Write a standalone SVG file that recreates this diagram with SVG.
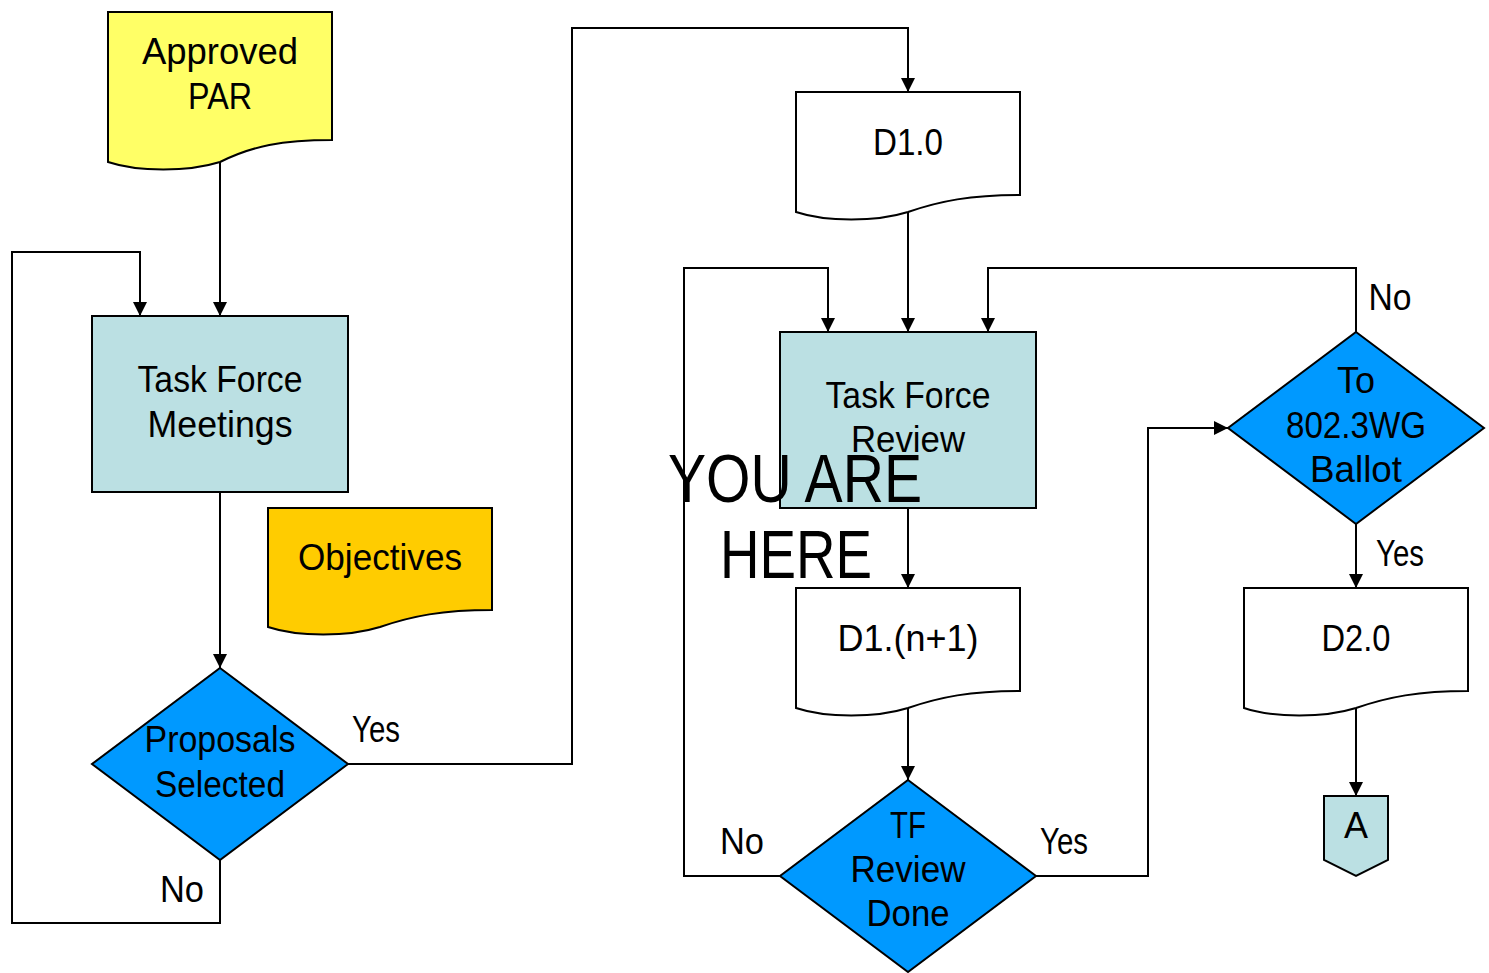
<svg xmlns="http://www.w3.org/2000/svg" width="1489" height="973" viewBox="0 0 1489 973">
<style>
.s{stroke:#000;stroke-width:2}
.ln{fill:none;stroke:#000;stroke-width:2}
text{font-family:"Liberation Sans",Arial,sans-serif;font-size:36px;fill:#000;text-anchor:middle}
.big{font-size:68px}
</style>
<defs>
<marker id="ah" markerUnits="userSpaceOnUse" markerWidth="14" markerHeight="16" refX="14" refY="7" orient="auto">
<path d="M0,0 L14,7 L0,14 Z" fill="#000"/>
</marker>
</defs>
<rect width="1489" height="973" fill="#fff"/>
<g id="connectors" class="ln">
<path d="M220,162 V316" marker-end="url(#ah)"/>
<path d="M220,860 V923 H12 V252 H140 V316" marker-end="url(#ah)"/>
<path d="M220,492 V668" marker-end="url(#ah)"/>
<path d="M348,764 H572 V28 H908 V92" marker-end="url(#ah)"/>
<path d="M908,212 V332" marker-end="url(#ah)"/>
<path d="M908,508 V588" marker-end="url(#ah)"/>
<path d="M908,708 V780" marker-end="url(#ah)"/>
<path d="M780,876 H684 V268 H828 V332" marker-end="url(#ah)"/>
<path d="M1036,876 H1148 V428 H1228" marker-end="url(#ah)"/>
<path d="M1356,332 V268 H988 V332" marker-end="url(#ah)"/>
<path d="M1356,524 V588" marker-end="url(#ah)"/>
<path d="M1356,708 V796" marker-end="url(#ah)"/>
</g>
<g id="approved-par">
<path class="s" fill="#ffff66" d="M108,12 H332 V140 C282,140 252,146 220,162 C188,172 138,172 108,162 Z"/>
<text x="220" y="64" textLength="156" lengthAdjust="spacingAndGlyphs">Approved</text>
<text x="220" y="109" textLength="64" lengthAdjust="spacingAndGlyphs">PAR</text>
</g>
<g id="task-force-meetings">
<rect class="s" x="92" y="316" width="256" height="176" fill="#bbe0e3"/>
<text x="220" y="392" textLength="165" lengthAdjust="spacingAndGlyphs">Task Force</text>
<text x="220" y="437" textLength="145" lengthAdjust="spacingAndGlyphs">Meetings</text>
</g>
<g id="objectives">
<path class="s" fill="#ffcc00" d="M268,508 H492 V610 C442,610 412,616 380,627 C348,637 298,637 268,627 Z"/>
<text x="380" y="570" textLength="164" lengthAdjust="spacingAndGlyphs">Objectives</text>
</g>
<g id="proposals-selected">
<path class="s" fill="#0099ff" d="M220,668 L348,764 L220,860 L92,764 Z"/>
<text x="220" y="752" textLength="151" lengthAdjust="spacingAndGlyphs">Proposals</text>
<text x="220" y="797" textLength="130" lengthAdjust="spacingAndGlyphs">Selected</text>
</g>
<g id="d1-0">
<path class="s" fill="#fff" d="M796,92 H1020 V195 C970,195 940,201 908,212 C876,222 826,222 796,212 Z"/>
<text x="908" y="155" textLength="70" lengthAdjust="spacingAndGlyphs">D1.0</text>
</g>
<g id="task-force-review">
<rect class="s" x="780" y="332" width="256" height="176" fill="#bbe0e3"/>
<text x="908" y="408" textLength="165" lengthAdjust="spacingAndGlyphs">Task Force</text>
<text x="908" y="452" textLength="114" lengthAdjust="spacingAndGlyphs">Review</text>
</g>
<g id="d1-n1">
<path class="s" fill="#fff" d="M796,588 H1020 V691 C970,691 940,697 908,708 C876,718 826,718 796,708 Z"/>
<text x="908" y="651" textLength="141" lengthAdjust="spacingAndGlyphs">D1.(n+1)</text>
</g>
<g id="tf-review-done">
<path class="s" fill="#0099ff" d="M908,780 L1036,876 L908,972 L780,876 Z"/>
<text x="908" y="838" textLength="36" lengthAdjust="spacingAndGlyphs">TF</text>
<text x="908" y="882" textLength="115" lengthAdjust="spacingAndGlyphs">Review</text>
<text x="908" y="926" textLength="83" lengthAdjust="spacingAndGlyphs">Done</text>
</g>
<g id="ballot">
<path class="s" fill="#0099ff" d="M1356,332 L1484,428 L1356,524 L1228,428 Z"/>
<text x="1356" y="393" textLength="38" lengthAdjust="spacingAndGlyphs">To</text>
<text x="1356" y="438" textLength="140" lengthAdjust="spacingAndGlyphs">802.3WG</text>
<text x="1356" y="482" textLength="92" lengthAdjust="spacingAndGlyphs">Ballot</text>
</g>
<g id="d2-0">
<path class="s" fill="#fff" d="M1244,588 H1468 V691 C1418,691 1388,697 1356,708 C1324,718 1274,718 1244,708 Z"/>
<text x="1356" y="651" textLength="69" lengthAdjust="spacingAndGlyphs">D2.0</text>
</g>
<g id="offpage-a">
<path class="s" fill="#bbe0e3" d="M1324,796 H1388 V860 L1356,876 L1324,860 Z"/>
<text x="1356" y="838" textLength="24" lengthAdjust="spacingAndGlyphs">A</text>
</g>
<g id="labels">
<text x="376" y="742" textLength="48" lengthAdjust="spacingAndGlyphs">Yes</text>
<text x="182" y="902" textLength="44" lengthAdjust="spacingAndGlyphs">No</text>
<text x="742" y="854" textLength="44" lengthAdjust="spacingAndGlyphs">No</text>
<text x="1064" y="854" textLength="48" lengthAdjust="spacingAndGlyphs">Yes</text>
<text x="1390" y="310" textLength="43" lengthAdjust="spacingAndGlyphs">No</text>
<text x="1400" y="566" textLength="48" lengthAdjust="spacingAndGlyphs">Yes</text>
</g>
<g id="you-are-here">
<text class="big" x="795" y="502" textLength="254" lengthAdjust="spacingAndGlyphs">YOU ARE</text>
<text class="big" x="796" y="578" textLength="152" lengthAdjust="spacingAndGlyphs">HERE</text>
</g>
</svg>
